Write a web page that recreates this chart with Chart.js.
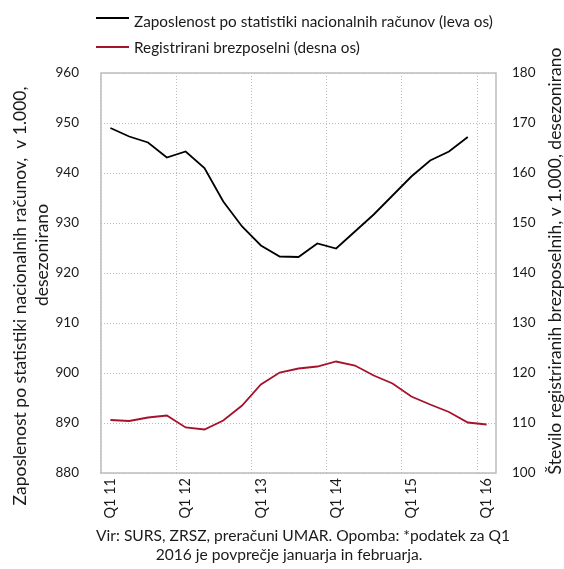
<!DOCTYPE html>
<html>
<head>
<meta charset="utf-8">
<script src="https://cdn.jsdelivr.net/npm/chart.js@4/dist/chart.umd.min.js"></script>
<style>
  html, body { margin: 0; padding: 0; background: #ffffff; }
  #wrap { width: 564px; height: 569px; position: relative; }
</style>
</head>
<body>
<div id="wrap"><canvas id="c" width="564" height="569"></canvas></div>
<script>
// ---- Data ----
const categories = [
  "Q1 11","Q2 11","Q3 11","Q4 11",
  "Q1 12","Q2 12","Q3 12","Q4 12",
  "Q1 13","Q2 13","Q3 13","Q4 13",
  "Q1 14","Q2 14","Q3 14","Q4 14",
  "Q1 15","Q2 15","Q3 15","Q4 15",
  "Q1 16"
];
// Employment by national accounts statistics, thousands (left axis)
const employment = [
  949.0, 947.3, 946.1, 943.1,
  944.3, 941.0, 934.3, 929.3,
  925.5, 923.3, 923.2, 925.9,
  924.9, 928.3, 931.7, 935.5,
  939.3, 942.5, 944.3, 947.2
];
// Registered unemployed, thousands (right axis)
const unemployed = [
  110.6, 110.4, 111.1, 111.5,
  109.1, 108.7, 110.5, 113.5,
  117.7, 120.1, 120.9, 121.3,
  122.3, 121.5, 119.5, 117.9,
  115.3, 113.7, 112.2, 110.1,
  109.7
];
const seriesNames = [
  "Zaposlenost po statistiki nacionalnih računov (leva os)",
  "Registrirani brezposelni (desna os)"
];
const leftAxisTitle = ["Zaposlenost po statistiki nacionalnih računov,  v 1.000,", "desezonirano"];
const rightAxisTitle = "Število registriranih brezposelnih, v 1.000, desezonirano";
const footnote = ["Vir: SURS, ZRSZ, preračuni UMAR. Opomba: *podatek za Q1", "2016 je povprečje januarja in februarja."];
const leftTicks = { min: 880, max: 960, step: 10 };
const rightTicks = { min: 100, max: 180, step: 10 };

const FONT = "Lato, 'Open Sans', sans-serif";
const TEXT = "#1a1a1a";
const GRID = "#bdbdbd";

const decorPlugin = {
  id: "decor",
  beforeDatasetsDraw(chart) {
    const { ctx, chartArea: a } = chart;
    ctx.save();
    ctx.strokeStyle = GRID;
    ctx.lineWidth = 1.5;
    ctx.strokeRect(a.left, a.top, a.right - a.left, a.bottom - a.top);
    ctx.restore();
  },
  afterDraw(chart) {
    const { ctx } = chart;
    ctx.save();
    ctx.fillStyle = TEXT;
    // legend
    const ds = chart.data.datasets;
    const rows = [{ lineY: 18, baseY: 26.5 }, { lineY: 47, baseY: 53 }];
    ds.forEach((d, i) => {
      ctx.strokeStyle = d.borderColor;
      ctx.lineWidth = 2;
      ctx.beginPath();
      ctx.moveTo(96, rows[i].lineY);
      ctx.lineTo(129, rows[i].lineY);
      ctx.stroke();
      ctx.font = "15.3px " + FONT;
      ctx.textAlign = "left";
      ctx.textBaseline = "alphabetic";
      ctx.fillText(d.label, 134, rows[i].baseY);
    });
    // left axis title
    ctx.font = "17.5px " + FONT;
    ctx.textAlign = "center";
    ctx.textBaseline = "middle";
    const lt = [{ x: 20, y: 296 }, { x: 42, y: 255 }];
    leftAxisTitle.forEach((t, i) => {
      ctx.save();
      ctx.translate(lt[i].x, lt[i].y);
      ctx.rotate(-Math.PI / 2);
      ctx.fillText(t, 0, 0);
      ctx.restore();
    });
    // right axis title
    ctx.save();
    ctx.translate(555, 261);
    ctx.rotate(-Math.PI / 2);
    ctx.fillText(rightAxisTitle, 0, 0);
    ctx.restore();
    // footnote
    ctx.font = "15.6px " + FONT;
    ctx.textBaseline = "alphabetic";
    ctx.textAlign = "center";
    ctx.fillText(footnote[0], 303, 541);
    ctx.fillText(footnote[1], 289, 560);
    ctx.restore();
  }
};

new Chart(document.getElementById("c"), {
  type: "line",
  data: {
    labels: categories,
    datasets: [
      {
        label: seriesNames[0],
        data: employment,
        yAxisID: "y",
        borderColor: "#000000",
        borderWidth: 1.8,
        pointRadius: 0,
        tension: 0,
        fill: false
      },
      {
        label: seriesNames[1],
        data: unemployed,
        yAxisID: "y1",
        borderColor: "#a6122b",
        borderWidth: 1.8,
        pointRadius: 0,
        tension: 0,
        fill: false
      }
    ]
  },
  options: {
    responsive: false,
    animation: false,
    devicePixelRatio: 1,
    layout: { padding: { top: 73, left: 0, right: 0, bottom: 0 } },
    plugins: {
      legend: { display: false },
      tooltip: { enabled: false },
      title: { display: false }
    },
    scales: {
      x: {
        type: "category",
        offset: true,
        grid: {
          offset: true,
          drawTicks: false,
          color: (c) => (c.index !== undefined && c.index % 4 === 0) ? GRID : "rgba(0,0,0,0)",
          lineWidth: 1
        },
        border: { display: false, dash: [1, 2] },
        ticks: {
          autoSkip: false,
          minRotation: 90,
          maxRotation: 90,
          padding: 5,
          color: TEXT,
          font: { family: FONT, size: 14.5 },
          callback: function (v, i) { return i % 4 === 0 ? this.getLabelForValue(v) : ""; }
        },
        afterFit: (s) => { s.height = 96; }
      },
      y: {
        position: "left",
        min: leftTicks.min,
        max: leftTicks.max,
        grid: { drawTicks: false, color: GRID, lineWidth: 1 },
        border: { display: false, dash: [1, 2] },
        ticks: {
          stepSize: leftTicks.step,
          padding: 22,
          color: TEXT,
          font: { family: FONT, size: 13.5 }
        },
        afterFit: (s) => { s.width = 101; }
      },
      y1: {
        position: "right",
        min: rightTicks.min,
        max: rightTicks.max,
        grid: { drawOnChartArea: false, drawTicks: false },
        border: { display: false },
        ticks: {
          stepSize: rightTicks.step,
          padding: 16,
          color: TEXT,
          font: { family: FONT, size: 13.5 }
        },
        afterFit: (s) => { s.width = 68; }
      }
    }
  },
  plugins: [decorPlugin]
});
</script>
</body>
</html>
